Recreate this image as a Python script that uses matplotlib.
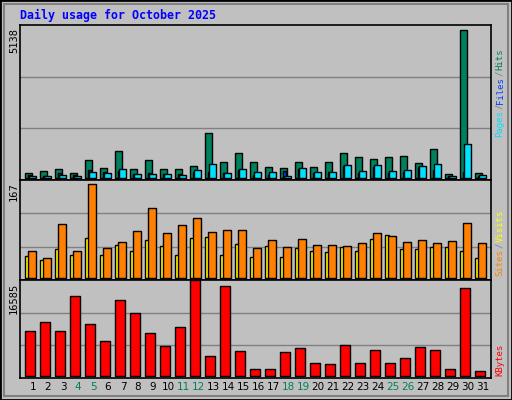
import matplotlib
matplotlib.use("Agg")
import matplotlib.pyplot as plt
import numpy as np
from matplotlib.patches import Rectangle

days = list(range(1, 32))
hits = [186,256,325,186,639,360,953,325,639,325,325,430,1581,570,884,570,395,360,570,395,570,884,744,674,744,779,535,1023,151,5138,186]
files = [116,81,186,116,291,221,256,151,186,151,151,221,221,186,291,116,116,256,325,186,221,430,186,395,186,221,395,291,81,221,81]
pages = [81,81,116,81,221,186,325,151,151,151,116,291,500,186,325,221,221,81,360,221,221,465,256,465,256,291,430,500,81,1197,116]
visits = [40,33,51,42,71,42,58,49,68,57,42,71,73,42,60,37,57,37,53,48,46,55,49,69,77,51,51,55,55,49,35]
sites = [48,35,96,48,167,53,64,84,124,80,95,106,82,86,86,53,68,55,69,58,58,57,62,80,75,64,68,62,66,98,62]
kbytes = [7869,9322,7869,13862,8958,6053,13135,10956,7506,5145,8414,16585,3511,15678,4237,1150,1150,4055,4782,2240,2058,5327,2240,4419,2240,3147,4964,4419,1150,15315,787]
weekend = [4,5,11,12,18,19,25,26]

W, H = 512, 400
fig = plt.figure(figsize=(W/100, H/100), dpi=100, facecolor="#C0C0C0")
fig.patches.append(Rectangle((0, 0), 1, 1, transform=fig.transFigure, fill=False, edgecolor="black", lw=2))
fig.patches.append(Rectangle((4/W, 4/H), 1-8/W, 1-8/H, transform=fig.transFigure, fill=False, edgecolor="#808080", lw=1.5))

def mkax(top, bot):
    ax = fig.add_axes([20/W, 1-bot/H, 471/W, (bot-top)/H], facecolor="#C0C0C0")
    ax.set_xlim(0.13, 31.53)
    for s in ax.spines.values():
        s.set_color("black"); s.set_linewidth(1.2)
    ax.set_xticks([]); ax.set_yticks([])
    return ax

grid = "#808080"
ek = dict(edgecolor="black", linewidth=1)
x = np.array(days)

ax1 = mkax(25, 180)
top = 5138*1.035
ax1.set_ylim(-70, top)
for f in (1/3, 2/3):
    ax1.axhline(-70 + (top+70)*f, color=grid, lw=1, zorder=0)
ax1.bar(x-0.30, hits, width=0.47, color="#00805C", **ek, zorder=2)
ax1.bar(x-0.23, files, width=0.22, color="#0040FF", **ek, zorder=3)
ax1.bar(x-0.03, pages, width=0.47, color="#00E0FF", **ek, zorder=4)

ax2 = mkax(180, 280)
ax2.set_ylim(-3, 167*1.04)
for f in (1/3, 2/3):
    ax2.axhline(-3 + (167*1.04+3)*f, color=grid, lw=1, zorder=0)
ax2.bar(x-0.4, visits, width=0.32, color="#FFFF00", **ek, zorder=2)
ax2.bar(x-0.07, sites, width=0.48, color="#FF8000", **ek, zorder=3)

ax3 = mkax(280, 378)
ax3.set_ylim(-400, 16585*1.005)
for f in (1/3, 2/3):
    ax3.axhline(-400 + (16585*1.005+400)*f, color=grid, lw=1, zorder=0)
ax3.bar(x-0.2, kbytes, width=0.68, color="#FF0000", **ek, zorder=2)
ax3.set_xticks(days)
ax3.set_xticklabels([str(d) for d in days], fontsize=7.5)
ax3.tick_params(axis="x", length=0, pad=3)
for lab, d in zip(ax3.get_xticklabels(), days):
    lab.set_color("#00805C" if d in weekend else "black")

fig.text(20/W, 1-15/H, "Daily usage for October 2025", color="#0000FF", family="DejaVu Sans Mono",
         fontweight="bold", fontsize=8.4, va="center", ha="left")

def lefttxt(s, ytop):
    fig.text(14/W, 1-ytop/H, s, rotation=90, fontsize=7.5, family="DejaVu Sans Mono", va="top", ha="center")
lefttxt("5138", 28)
lefttxt("167", 182)
lefttxt("16585", 283)

FS = 6.5
STEP = 0.6*FS*100/72
def righttxt(parts, ybottom):
    y = ybottom
    for s, c in parts:
        fig.text(500/W, 1-y/H, s, rotation=90, fontsize=FS, family="DejaVu Sans Mono",
                 color=c, va="bottom", ha="center")
        y -= len(s)*STEP + 0.5
righttxt([("Pages", "#00E0FF"), ("/", "#808080"), ("Files", "#0040FF"), ("/", "#808080"), ("Hits", "#00805C")], 137)
righttxt([("Sites", "#FF8000"), ("/", "#808080"), ("Visits", "#FFFF00")], 276)
righttxt([("KBytes", "#FF0000")], 376)

fig.savefig("out.png", dpi=100, facecolor=fig.get_facecolor())
